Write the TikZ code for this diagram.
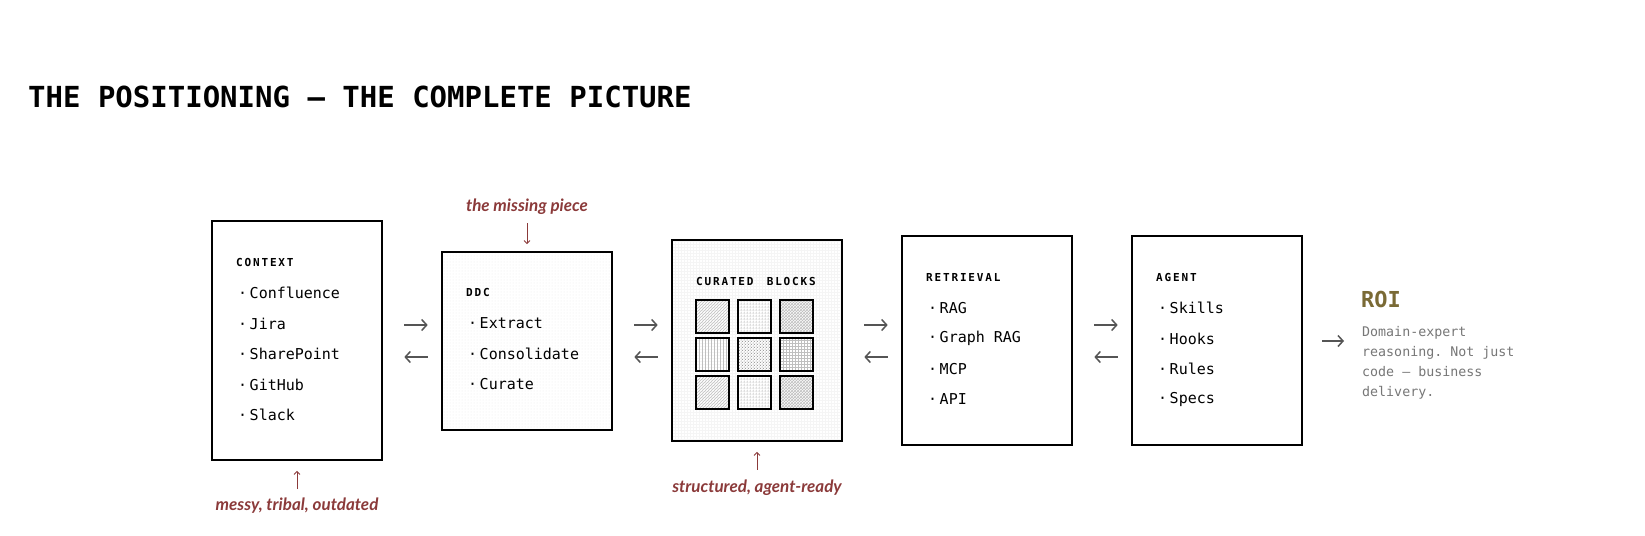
\documentclass[tikz,border=0pt]{standalone}
\usepackage{fontspec}
\setmonofont{DejaVu Sans Mono}
\newfontfamily\hand{Lato}
\usetikzlibrary{arrows.meta,patterns,calc}
\definecolor{ann}{HTML}{8B3A3A}
\definecolor{roi}{HTML}{7A6A35}
\definecolor{desc}{HTML}{777777}
\definecolor{arrg}{HTML}{555555}
\begin{document}
\begin{tikzpicture}[x=1pt,y=-1pt,
  box/.style={draw=black,line width=1.6pt,minimum width=170pt,inner sep=0pt},
  lab/.style={anchor=west,font=\ttfamily\bfseries\fontsize{11}{12}\selectfont,inner sep=0pt},
  item/.style={anchor=west,font=\ttfamily\fontsize{15}{16}\selectfont,inner sep=0pt},
  cell/.style={draw=black,line width=1.6pt,minimum width=33pt,minimum height=33pt,inner sep=0pt},
  arr/.style={draw=arrg,line width=1.5pt,-{Straight Barb[length=5pt,width=11pt]}},
  annt/.style={font=\hand\itshape\bfseries\fontsize{17}{18}\selectfont,text=ann,inner sep=0pt},
  annarr/.style={draw=ann,line width=0.9pt,-{Straight Barb[length=3pt,width=6pt]}}]
\useasboundingbox (0,0) rectangle (1645,535);
\fill[white] (0,0) rectangle (1645,535);
\node[anchor=west,inner sep=0pt,font=\ttfamily\bfseries\fontsize{29}{30}\selectfont] (title) at (28,97) {THE POSITIONING — THE COMPLETE PICTURE};
% boxes
\node[box,minimum height=239pt] (ctx) at (297,340.5) {};
\fill[pattern=dots,pattern color=black!7] (443,253) rectangle (611,429);
\node[box,minimum height=178pt] (ddc) at (527,341) {};
\fill[pattern=grid,pattern color=black!4] (673,241) rectangle (841,440);
\node[box,minimum height=201pt] (cur) at (757,340.5) {};
\node[box,minimum height=209pt] (ret) at (987,340.5) {};
\node[box,minimum height=209pt] (agt) at (1217,340.5) {};
% context
\node[lab] (ctxl) at (236,262) {C\,O\,N\,T\,E\,X\,T};
\foreach \t [count=\i from 0] in {Confluence,Jira,SharePoint,GitHub,Slack}
  \node[item] (c\i) at (238,{293+30.5*\i}) {·\,\t};
% ddc
\node[lab] (ddcl) at (466,292) {D\,D\,C};
\foreach \t [count=\i from 0] in {Extract,Consolidate,Curate}
  \node[item] (d\i) at (468,{323+30.5*\i}) {·\,\t};
% curated
\node[lab] (curl) at (696,281) {C\,U\,R\,A\,T\,E\,D\ \ B\,L\,O\,C\,K\,S};
\foreach \p/\c [count=\i from 0] in {north east lines/25,dots/45,crosshatch/25,vertical lines/25,crosshatch dots/45,grid/25,north east lines/25,dots/45,crosshatch/25}{
  \pgfmathtruncatemacro\cx{mod(\i,3)}
  \pgfmathtruncatemacro\cy{int(\i/3)}
  \node[cell,pattern=\p,pattern color=black!\c] (g\i) at ({712.5+42*\cx},{316.5+38*\cy}) {};
}
% retrieval
\node[lab] (retl) at (926,277) {R\,E\,T\,R\,I\,E\,V\,A\,L};
\foreach \t [count=\i from 0] in {RAG,Graph RAG,MCP,API}
  \node[item] (r\i) at (928,{308+30.5*\i}) {·\,\t};
% agent
\node[lab] (agtl) at (1156,277) {A\,G\,E\,N\,T};
\foreach \t [count=\i from 0] in {Skills,Hooks,Rules,Specs}
  \node[item] (a\i) at (1158,{308+30.5*\i}) {·\,\t};
% ROI
\node[anchor=west,inner sep=0pt,font=\ttfamily\bfseries\fontsize{22}{24}\selectfont,text=roi] (roi) at (1361,299) {ROI};
\node[anchor=north west,inner sep=0pt,align=left,text=desc,font=\ttfamily\fontsize{13.3}{20}\selectfont] (rdesc) at (1362,326) {Domain-expert\\reasoning. Not just\\code — business\\delivery.};
% arrows between boxes
\foreach \a/\b in {ctx/ddc,ddc/cur,cur/ret,ret/agt}{
  \path let \p1=(\a.east), \p2=(\b.west) in
    coordinate (L) at ({0.3*\x2+0.7*\x1+4},325)
    coordinate (R) at ({0.7*\x2+0.3*\x1+4},325)
    coordinate (L2) at ({0.3*\x2+0.7*\x1+4},357)
    coordinate (R2) at ({0.7*\x2+0.3*\x1+4},357);
  \draw[arr] (L) -- (R);
  \draw[arr] (R2) -- (L2);
}
\coordinate (roiA) at (1322,341);
\coordinate (roiB) at (1344,341);
\draw[arr] (roiA) -- (roiB);
% annotations
\node[annt] (miss) at (527,207) {the missing piece};
\draw[annarr] ($(miss.south)+(0,8)$) -- ($(ddc.north)+(0,-7)$);
\node[annt] (strc) at (757,488) {structured, agent-ready};
\draw[annarr] ($(strc.north)+(0,-10)$) -- ($(cur.south)+(0,10)$);
\node[annt] (mess) at (297,506) {messy, tribal, outdated};
\draw[annarr] ($(mess.north)+(0,-9)$) -- ($(ctx.south)+(0,10)$);
\end{tikzpicture}
\end{document}
